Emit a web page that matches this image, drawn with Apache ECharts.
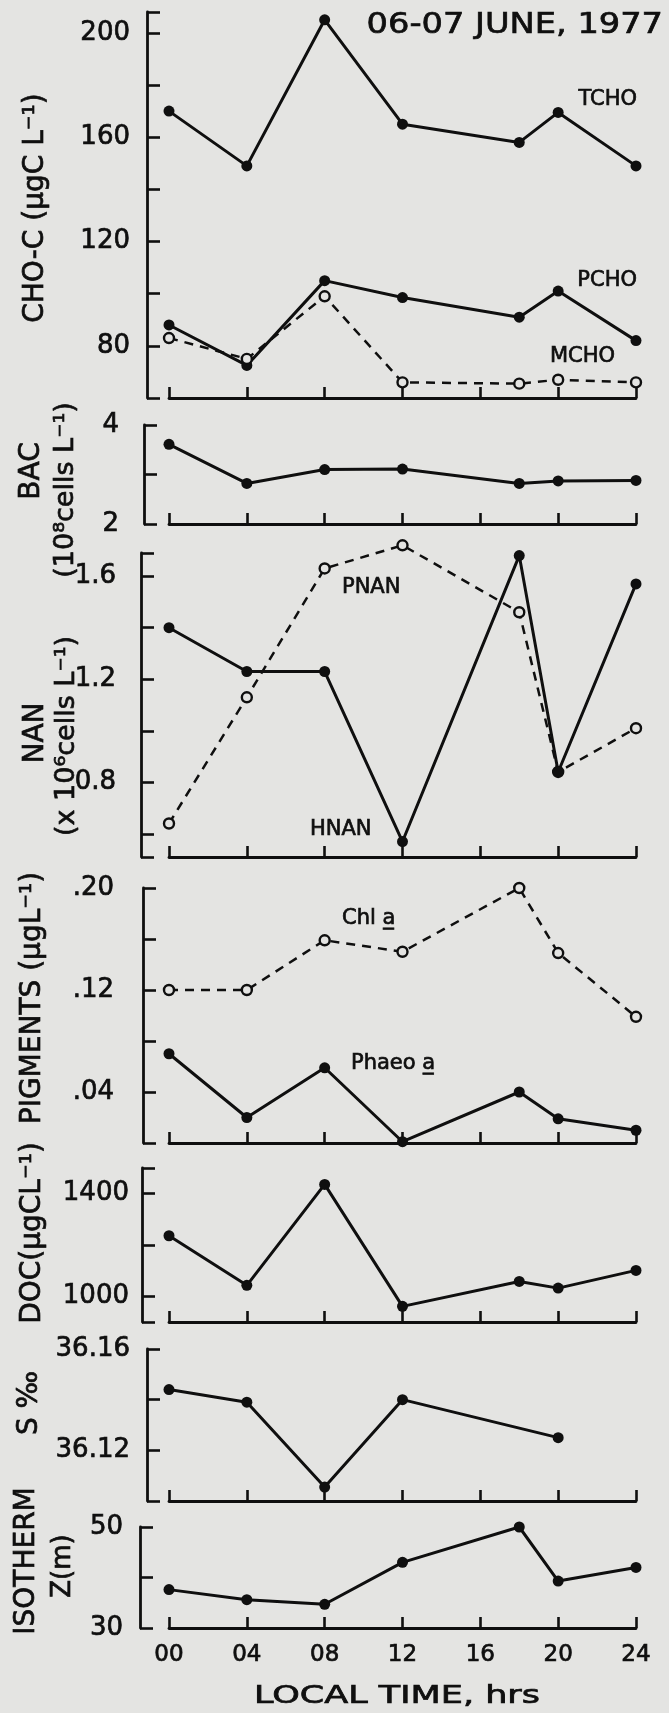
<!DOCTYPE html>
<html>
<head>
<meta charset="utf-8">
<script src="https://cdn.jsdelivr.net/npm/echarts@6/dist/echarts.min.js"></script>
<style>
  html, body { margin: 0; padding: 0; background: #e4e4e2; }
  #chart { width: 669px; height: 1713px; }
</style>
</head>
<body>
<div id="chart"></div>
<script>
// Sampling times (local time, hours)
const hours = [0, 4, 8, 12, 18, 20, 24];
const salinityHours = [0, 4, 8, 12, 20];

// Carbohydrate carbon (µgC/L)
const tcho = [170, 149, 205, 165, 158, 169.5, 149];
const pcho = [88, 72.5, 105, 98.5, 91, 101, 82];
const mcho = [83, 75, 99, 66, 65.5, 67, 66];
// Bacteria (10^8 cells/L)
const bac = [3.61, 2.82, 3.10, 3.11, 2.82, 2.87, 2.88];
// Nanoplankton (x10^6 cells/L)
const hnan = [1.40, 1.23, 1.23, 0.57, 1.68, 0.84, 1.57];
const pnan = [0.64, 1.13, 1.63, 1.72, 1.46, 0.84, 1.01];
// Pigments (µg/L)
const chla = [0.120, 0.120, 0.159, 0.150, 0.200, 0.149, 0.099];
const phaeo = [0.070, 0.020, 0.059, 0.001, 0.040, 0.019, 0.010];
// Dissolved organic carbon (µgC/L)
const doc = [1236, 1043, 1436, 961, 1058, 1032, 1101];
// Salinity (‰)
const salinity = [36.144, 36.139, 36.1055, 36.140, 36.125];
// Isotherm depth (m)
const isotherm = [37.6, 35.6, 34.7, 43.0, 50, 39.3, 42];

// Axis ticks and labelled values
const xTicks = [0, 4, 8, 12, 16, 20, 24];
const choTicks = [60, 80, 100, 120, 140, 160, 180, 200, 208];
const choLabels = [80, 120, 160, 200];
const bacTicks = [2, 3, 4];
const bacLabels = [2, 4];
const nanTicks = [0.51, 0.6, 0.8, 1.0, 1.2, 1.4, 1.6, 1.69];
const nanLabels = [0.8, 1.2, 1.6];
const pigTicks = [0, 0.04, 0.08, 0.12, 0.16, 0.20];
const pigLabels = [0.04, 0.12, 0.20];
const docTicks = [900, 1000, 1200, 1400, 1500];
const docLabels = [1000, 1400];
const salTicks = [36.10, 36.12, 36.14, 36.16];
const salLabels = [36.12, 36.16];
const isoTicks = [30, 40, 50];
const isoLabels = [30, 50];

const ink = '#0f0f0f';
const paper = '#e4e4e2';
const FONT = 'DejaVu Sans';
const GRID_LEFT = 169, GRID_RIGHT = 33;
const PEN = 0.7; // extra stroke on lettering, like a technical pen

// Panel layout: vertical extent in px, y-range, and where the y-axis bracket sits
const panels = [
  { top: 12,   bottom: 398,  min: 60,    max: 208,  ticks: choTicks, labels: choLabels, axisX: 147, margin: 17, fmt: v => String(v) },
  { top: 425,  bottom: 524,  min: 2,     max: 4,    ticks: bacTicks, labels: bacLabels, axisX: 144, margin: 25, fmt: v => String(v) },
  { top: 553,  bottom: 857,  min: 0.51,  max: 1.69, ticks: nanTicks, labels: nanLabels, axisX: 141, margin: 25, fmt: v => v.toFixed(1) },
  { top: 888,  bottom: 1143, min: 0,     max: 0.20, ticks: pigTicks, labels: pigLabels, axisX: 143, margin: 29, fmt: v => v.toFixed(2).replace(/^0/, '') },
  { top: 1168, bottom: 1322, min: 900,   max: 1500, ticks: docTicks, labels: docLabels, axisX: 142, margin: 13, fmt: v => String(v) },
  { top: 1349, bottom: 1501, min: 36.10, max: 36.16, ticks: salTicks, labels: salLabels, axisX: 147, margin: 17, fmt: v => v.toFixed(2) },
  { top: 1527, bottom: 1628, min: 30,    max: 50,   ticks: isoTicks, labels: isoLabels, axisX: 140, margin: 17, fmt: v => String(v) }
];

const pairs = (xs, ys) => xs.map((x, i) => [x, ys[i]]);

const grid = panels.map(p => ({
  left: GRID_LEFT, right: GRID_RIGHT, top: p.top, height: p.bottom - p.top
}));

const xAxis = panels.map((p, i) => ({
  type: 'value', gridIndex: i, min: 0, max: 24,
  axisLine: { show: true, onZero: false, lineStyle: { color: ink, width: 2.8 } },
  axisTick: { show: true, inside: true, length: 11, customValues: xTicks, lineStyle: { color: ink, width: 2.6 } },
  axisLabel: {
    show: i === panels.length - 1, customValues: xTicks, margin: 16,
    fontSize: 23, fontFamily: FONT, color: ink,
    textBorderColor: ink, textBorderWidth: PEN,
    formatter: v => String(v).padStart(2, '0')
  },
  splitLine: { show: false }
}));

const yAxis = panels.map((p, i) => ({
  type: 'value', gridIndex: i, min: p.min, max: p.max,
  offset: GRID_LEFT - p.axisX,
  axisLine: { show: true, onZero: false, lineStyle: { color: ink, width: 2.8 } },
  axisTick: { show: true, inside: true, length: 13, customValues: p.ticks, lineStyle: { color: ink, width: 2.6 } },
  axisLabel: {
    customValues: p.labels, margin: p.margin,
    fontSize: 26, fontFamily: FONT, color: ink,
    textBorderColor: ink, textBorderWidth: PEN,
    formatter: p.fmt
  },
  splitLine: { show: false }
}));

function solid(idx, xs, ys) {
  return {
    type: 'line', xAxisIndex: idx, yAxisIndex: idx, data: pairs(xs, ys),
    symbol: 'circle', symbolSize: 11, clip: false, silent: true,
    lineStyle: { color: ink, width: 3 },
    itemStyle: { color: ink }
  };
}
function dashed(idx, xs, ys) {
  return {
    type: 'line', xAxisIndex: idx, yAxisIndex: idx, data: pairs(xs, ys),
    symbol: 'circle', symbolSize: 10, clip: false, silent: true,
    lineStyle: { color: ink, width: 2.5, type: [9, 7] },
    itemStyle: { color: paper, borderColor: ink, borderWidth: 2.4 }
  };
}

const series = [
  solid(0, hours, tcho),
  solid(0, hours, pcho),
  dashed(0, hours, mcho),
  solid(1, hours, bac),
  dashed(2, hours, pnan),
  solid(2, hours, hnan),
  dashed(3, hours, chla),
  solid(3, hours, phaeo),
  solid(4, hours, doc),
  solid(5, salinityHours, salinity),
  solid(6, hours, isotherm)
];

// Text helpers for the annotations
function label(text, x, y, size, align, extra) {
  return Object.assign({
    type: 'text', x: x, y: y, silent: true,
    style: {
      text: text, fontSize: size, fontFamily: FONT, fill: ink,
      stroke: ink, lineWidth: PEN,
      align: align || 'left', verticalAlign: 'middle'
    }
  }, extra || {});
}
function vlabel(text, x, y, size) {
  return {
    type: 'text', x: x, y: y, rotation: Math.PI / 2, silent: true,
    style: {
      text: text, fontSize: size, fontFamily: FONT, fill: ink,
      stroke: ink, lineWidth: PEN,
      align: 'center', verticalAlign: 'middle'
    }
  };
}

const graphic = [
  label('06-07 JUNE, 1977', 663, 25, 29, 'right', { scaleX: 1.16 }),
  // series names
  label('TCHO', 637, 100, 21, 'right'),
  label('PCHO', 637, 281, 21, 'right'),
  label('MCHO', 615, 357, 21, 'right'),
  label('PNAN', 342, 588, 21, 'left'),
  label('HNAN', 310, 830, 21, 'left'),
  label('Chl a\u0332', 342, 919, 21, 'left'),
  label('Phaeo a\u0332', 351, 1064, 21, 'left'),
  // y-axis titles
  vlabel('CHO-C (\u03bcgC L\u207b\u00b9)', 36, 208, 28),
  vlabel('BAC', 32, 471, 28),
  vlabel('(10\u2078cells L\u207b\u00b9)', 66, 490, 27),
  vlabel('NAN', 36, 733, 28),
  vlabel('(x 10\u2076cells L\u207b\u00b9)', 67, 736, 27),
  vlabel('PIGMENTS (\u03bcgL\u207b\u00b9)', 33, 998, 28),
  vlabel('DOC(\u03bcgCL\u207b\u00b9)', 33, 1233, 28),
  vlabel('S \u2030', 30, 1403, 28),
  vlabel('ISOTHERM', 27, 1561, 28),
  vlabel('Z(m)', 63, 1566, 26),
  // x-axis title
  label('LOCAL TIME, hrs', 397, 1696, 25, 'center', { scaleX: 1.4 })
];

const chart = echarts.init(document.getElementById('chart'), null, { renderer: 'canvas' });
chart.setOption({
  backgroundColor: paper,
  animation: false,
  grid: grid,
  xAxis: xAxis,
  yAxis: yAxis,
  series: series,
  graphic: graphic
});
</script>
</body>
</html>
